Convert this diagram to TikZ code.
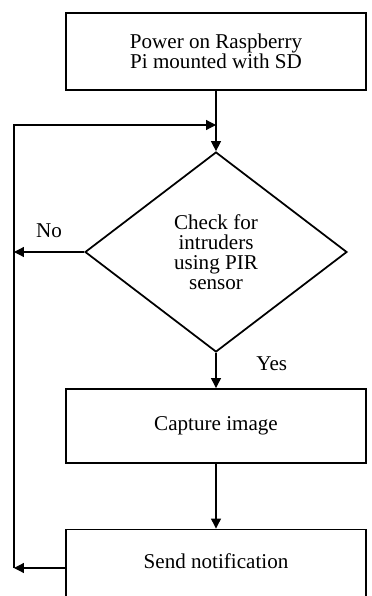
\documentclass[tikz,border=0pt]{standalone}
\usepackage{fontspec}
\setmainfont{Liberation Serif}
\usetikzlibrary{shapes.geometric, arrows.meta, positioning}

\begin{document}
\begin{tikzpicture}[x=0.02cm, y=-0.02cm,
    >={Triangle[length=2mm,width=2mm]},
    box/.style={draw, line width=1.1pt, minimum width=6cm, minimum height=1.54cm,
        align=center, font=\fontsize{12}{11.5}\selectfont},
    decision/.style={diamond, draw, line width=1pt, minimum width=5.24cm,
        minimum height=4cm, inner sep=0pt, align=center,
        font=\fontsize{12}{11.5}\selectfont},
    flow/.style={line width=0.7pt},
    tag/.style={font=\fontsize{12}{14}\selectfont}]

    % Fix the page to the picture size
    \useasboundingbox (0,0) rectangle (372,596);
    \clip (0,0) rectangle (372,596);

    % Draw the steps
    \node[box] (power) at (216,51.5) {Power on Raspberry\\Pi mounted with SD};
    \node[decision] (check) at (216,252) {Check for\\intruders\\using PIR\\sensor};
    \node[box, minimum height=1.48cm] (capture) at (216,426) {Capture image};
    \node[box, text depth=0.27cm] (notify) at (216,568) {Send notification};

    % Define coordinates for the loop back
    \coordinate (join) at (216,125);
    \coordinate (loopTop) at (14,125);
    \coordinate (loopBottom) at (14,568);
    \coordinate (noEnd) at (14,252);

    % Draw the flow
    \draw[flow,->] (power) -- (check);
    \draw[flow,->] (check) -- node[tag, pos=0.3, right=0.68cm] {Yes} (capture);
    \draw[flow,->] (capture) -- (notify);
    \draw[flow,->] (check.west) -- node[tag, above=0.15cm] {No} (noEnd);
    \draw[flow,->] (notify.west) -- (loopBottom);
    \draw[flow,->] (loopBottom) -- (loopTop) -- (join);

\end{tikzpicture}
\end{document}
